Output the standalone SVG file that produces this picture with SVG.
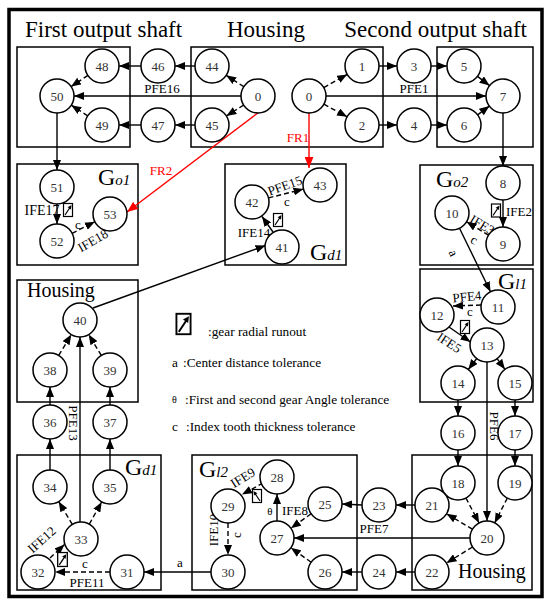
<svg xmlns="http://www.w3.org/2000/svg" width="550" height="607" viewBox="0 0 550 607">
<defs>
<style>
.bx{fill:none;stroke:#000;stroke-width:1.5}
.nd circle{fill:#fff;stroke:#000;stroke-width:1.5}
.nd text{font-family:'Liberation Serif',serif;font-size:13px;fill:#333;text-anchor:middle}
.e{stroke:#000;stroke-width:1.4;fill:none;marker-end:url(#ah)}
.d{stroke-dasharray:5 3}
.r{stroke:#f00;stroke-width:1.4;fill:none;marker-end:url(#ahr)}
.lb{font-family:'Liberation Serif',serif;font-size:13px;fill:#000}
.m{text-anchor:middle}
.t{font-family:'Liberation Serif',serif;font-size:23px;fill:#000}
.h{font-family:'Liberation Serif',serif;font-size:20px;fill:#000}
.g{font-family:'Liberation Serif',serif;font-size:24px;fill:#000}
.gs{font-style:italic;font-size:15px}
.rl{font-family:'Liberation Serif',serif;font-size:13px;fill:#f00}
.lg{font-family:'Liberation Serif',serif;font-size:13.3px;fill:#000}
</style>
<marker id="ah" viewBox="0 0 10 8" refX="10" refY="4" markerWidth="10" markerHeight="8" markerUnits="userSpaceOnUse" orient="auto"><path d="M0,0 L10,4 L0,8 z" fill="#000"/></marker>
<marker id="ahr" viewBox="0 0 10 8" refX="10" refY="4" markerWidth="11" markerHeight="9" markerUnits="userSpaceOnUse" orient="auto"><path d="M0,0 L10,4 L0,8 z" fill="#f00"/></marker>
<symbol id="ro" viewBox="0 0 10 14" overflow="visible">
<rect x="0.5" y="0.5" width="9" height="13" fill="#fff" stroke="#000" stroke-width="1.2"/>
<line x1="2" y1="12" x2="7" y2="4.5" stroke="#000" stroke-width="1.2"/>
<polygon points="8.5,2 7.96,6.4 4.64,4.2" fill="#000"/>
</symbol>
</defs>
<rect width="550" height="607" fill="#fff"/>
<rect x="9" y="9.5" width="533" height="587" fill="none" stroke="#000" stroke-width="3.5"/>

<g id="titles">
<text class="t" x="25" y="37">First output shaft</text>
<text class="t" x="227" y="37">Housing</text>
<text class="t" x="527" y="37" text-anchor="end">Second output shaft</text>
</g>

<g id="boxes">
<rect class="bx" x="17" y="47" width="113" height="100"/>
<rect class="bx" x="191" y="47" width="192" height="100"/>
<rect class="bx" x="437" y="47" width="96" height="100"/>
<rect class="bx" x="17" y="164" width="121" height="101"/>
<rect class="bx" x="225" y="164" width="121" height="101"/>
<rect class="bx" x="420" y="165" width="113" height="100"/>
<rect class="bx" x="17" y="280" width="121" height="122"/>
<rect class="bx" x="420" y="269" width="113" height="133"/>
<rect class="bx" x="17" y="455" width="144" height="135"/>
<rect class="bx" x="192" y="455" width="165" height="135"/>
<rect class="bx" x="412" y="455" width="120" height="135"/>
<text class="h" x="27" y="297">Housing</text>
<text class="h" x="458" y="578">Housing</text>
<text class="g" x="98" y="185">G<tspan class="gs">o1</tspan></text>
<text class="g" x="310" y="260">G<tspan class="gs">d1</tspan></text>
<text class="g" x="436" y="187">G<tspan class="gs">o2</tspan></text>
<text class="g" x="498" y="289">G<tspan class="gs">l1</tspan></text>
<text class="g" x="199" y="477">G<tspan class="gs">l2</tspan></text>
<text class="g" x="125" y="475">G<tspan class="gs">d1</tspan></text>
</g>

<g id="connectors">
<line class="e" x1="141" y1="66" x2="119" y2="66"/>
<line class="e" x1="195" y1="66" x2="175" y2="66"/>
<line class="e" x1="141" y1="125" x2="119" y2="125"/>
<line class="e" x1="195" y1="125" x2="175" y2="125"/>
<line class="e d" x1="87.9" y1="75.4" x2="71.1" y2="86.6"/>
<line class="e d" x1="87.7" y1="115.8" x2="71.3" y2="105.2"/>
<line class="e" x1="241" y1="96" x2="74" y2="96"/>
<line class="e d" x1="243.8" y1="86.7" x2="226.2" y2="75.3"/>
<line class="e d" x1="243.6" y1="105.1" x2="226.4" y2="115.9"/>
<line class="e d" x1="323.8" y1="87.6" x2="347.2" y2="74.4"/>
<line class="e d" x1="323.9" y1="104.2" x2="347.1" y2="116.8"/>
<line class="e" x1="379" y1="66" x2="397" y2="66"/>
<line class="e" x1="379" y1="125" x2="397" y2="125"/>
<line class="e" x1="431" y1="66" x2="447" y2="66"/>
<line class="e" x1="431" y1="125" x2="447" y2="125"/>
<line class="e" x1="477.5" y1="76.4" x2="489.5" y2="85.6"/>
<line class="e" x1="477.6" y1="114.9" x2="489.4" y2="106.1"/>
<line class="e" x1="326" y1="96" x2="486" y2="96"/>
<line class="e" x1="503" y1="113" x2="503" y2="166"/>
<line class="e" x1="57" y1="113" x2="57" y2="170"/>
<line class="e" x1="57" y1="204" x2="57" y2="224"/>
<line class="e d" x1="72.1" y1="233.3" x2="94.9" y2="221.7"/>
<line class="e" x1="273" y1="232" x2="262" y2="216.5"/>
<line class="e d" x1="268.5" y1="197.9" x2="303.5" y2="189.1"/>
<line class="e" x1="93" y1="308" x2="265.5" y2="245.5"/>
<line class="e" x1="503" y1="200" x2="503" y2="227"/>
<line class="e d" x1="488.5" y1="235.2" x2="466.5" y2="221.8"/>
<line class="e" x1="459.5" y1="228.3" x2="490.5" y2="291.7"/>
<line class="e d" x1="481" y1="305" x2="453" y2="306"/>
<line class="e" x1="449" y1="327" x2="470.5" y2="342"/>
<line class="e" x1="476.7" y1="358.5" x2="468.3" y2="369.5"/>
<line class="e" x1="497.1" y1="358.7" x2="504.9" y2="369.3"/>
<line class="e" x1="487" y1="362" x2="487" y2="521"/>
<line class="e" x1="458" y1="400" x2="458" y2="416"/>
<line class="e" x1="515" y1="400" x2="515" y2="416"/>
<line class="e" x1="458" y1="450" x2="458" y2="466"/>
<line class="e" x1="515" y1="450" x2="515" y2="466"/>
<line class="e d" x1="465.9" y1="498" x2="479.1" y2="523"/>
<line class="e d" x1="507.3" y1="498.1" x2="494.7" y2="522.9"/>
<line class="e d" x1="472.4" y1="529.2" x2="446.6" y2="513.8"/>
<line class="e d" x1="472.5" y1="547" x2="446.5" y2="563"/>
<line class="e" x1="415" y1="505" x2="396" y2="505"/>
<line class="e" x1="415" y1="572" x2="396" y2="572"/>
<line class="e" x1="470" y1="538" x2="294" y2="538"/>
<line class="e" x1="362" y1="505" x2="342" y2="504"/>
<line class="e" x1="362" y1="572" x2="342" y2="572"/>
<line class="e d" x1="311.1" y1="513.8" x2="290.9" y2="528.2"/>
<line class="e d" x1="311.1" y1="562.2" x2="290.9" y2="547.8"/>
<line class="e" x1="277" y1="521" x2="277" y2="494"/>
<line class="e d" x1="263" y1="483" x2="242" y2="494.5"/>
<line class="e d" x1="228" y1="523" x2="228" y2="555"/>
<line class="e" x1="211" y1="572" x2="144" y2="572"/>
<line class="e d" x1="110" y1="572" x2="55" y2="572"/>
<line class="e d" x1="50" y1="558" x2="64.5" y2="544.5"/>
<line class="e d" x1="72.3" y1="524.4" x2="58.7" y2="501.6"/>
<line class="e d" x1="89.3" y1="524.1" x2="101.7" y2="501.9"/>
<line class="e" x1="50" y1="470" x2="50" y2="439"/>
<line class="e" x1="110" y1="470" x2="110" y2="439"/>
<line class="e" x1="80" y1="522" x2="80" y2="337"/>
<line class="e" x1="50" y1="405" x2="50" y2="387"/>
<line class="e" x1="110" y1="405" x2="110" y2="387"/>
<line class="e d" x1="58.7" y1="355.4" x2="71.3" y2="334.6"/>
<line class="e d" x1="101.3" y1="355.4" x2="88.7" y2="334.6"/>
<line class="r" x1="309" y1="113" x2="309" y2="168"/>
<line class="r" x1="259" y1="112" x2="127" y2="212"/>
</g>

<g id="edge-labels">
<text class="lb m" x="162" y="93">PFE16</text>
<text class="lb m" x="414" y="93">PFE1</text>
<text class="rl m" x="298" y="142">FR1</text>
<text class="rl m" x="161" y="175">FR2</text>
<text class="lb m" x="42" y="215" style="font-size:14px">IFE17</text>
<text class="lb m" x="78" y="229">c</text>
<text class="lb m" transform="translate(93,241) rotate(-30)" y="4">IFE18</text>
<text class="lb m" transform="translate(285,186) rotate(-20)" y="4">PFE15</text>
<text class="lb m" x="287" y="206">c</text>
<text class="lb m" x="254" y="237">IFE14</text>
<text class="lb" x="506" y="216">IFE2</text>
<text class="lb m" transform="translate(482,225) rotate(31)" y="4">IFE3</text>
<text class="lb m" transform="translate(474,240) rotate(31)" y="4">c</text>
<text class="lb m" transform="translate(453,253) rotate(64)" y="4">a</text>
<text class="lb m" transform="translate(467,297) rotate(-6)" y="4">PFE4</text>
<text class="lb m" x="470" y="316">c</text>
<text class="lb m" transform="translate(449,343) rotate(33)" y="4">IFE5</text>
<text class="lb m" transform="translate(494,426) rotate(90)" y="4">PFE6</text>
<text class="lb m" x="374" y="533">PFE7</text>
<text class="lb m" x="270" y="515" style="font-size:11px">θ</text>
<text class="lb" x="282" y="515">IFE8</text>
<text class="lb m" transform="translate(243,478) rotate(-32)" y="4">IFE9</text>
<text class="lb m" transform="translate(214,530) rotate(-90)" y="4">IFE10</text>
<text class="lb m" transform="translate(237,535) rotate(-90)" y="4">c</text>
<text class="lb m" x="180" y="567">a</text>
<text class="lb m" x="85" y="568">c</text>
<text class="lb m" x="87" y="587">PFE11</text>
<text class="lb m" transform="translate(42,540) rotate(-42)" y="4">IFE12</text>
<text class="lb m" transform="translate(73,423) rotate(90)" y="4">PFE13</text>
</g>

<g id="runout-marks">
<use href="#ro" x="63" y="203" width="10" height="14"/>
<use href="#ro" x="273" y="213" width="10" height="14"/>
<use href="#ro" x="491" y="203" width="10" height="15"/>
<use href="#ro" x="460" y="320" width="10" height="14"/>
<use href="#ro" transform="translate(262,489) scale(-1,1)" x="0" y="0" width="10" height="14"/>
<use href="#ro" x="57" y="552" width="11" height="15"/>
</g>

<g id="n48" class="nd"><circle cx="102" cy="66" r="17"/><text x="102" y="70.5">48</text></g>
<g id="n46" class="nd"><circle cx="158" cy="66" r="17"/><text x="158" y="70.5">46</text></g>
<g id="n44" class="nd"><circle cx="212" cy="66" r="17"/><text x="212" y="70.5">44</text></g>
<g id="n50" class="nd"><circle cx="57" cy="96" r="17"/><text x="57" y="100.5">50</text></g>
<g id="n0a" class="nd"><circle cx="258" cy="96" r="17"/><text x="258" y="100.5">0</text></g>
<g id="n49" class="nd"><circle cx="102" cy="125" r="17"/><text x="102" y="129.5">49</text></g>
<g id="n47" class="nd"><circle cx="158" cy="125" r="17"/><text x="158" y="129.5">47</text></g>
<g id="n45" class="nd"><circle cx="212" cy="125" r="17"/><text x="212" y="129.5">45</text></g>
<g id="n0b" class="nd"><circle cx="309" cy="96" r="17"/><text x="309" y="100.5">0</text></g>
<g id="n1" class="nd"><circle cx="362" cy="66" r="17"/><text x="362" y="70.5">1</text></g>
<g id="n2" class="nd"><circle cx="362" cy="125" r="17"/><text x="362" y="129.5">2</text></g>
<g id="n3" class="nd"><circle cx="414" cy="66" r="17"/><text x="414" y="70.5">3</text></g>
<g id="n4" class="nd"><circle cx="414" cy="125" r="17"/><text x="414" y="129.5">4</text></g>
<g id="n5" class="nd"><circle cx="464" cy="66" r="17"/><text x="464" y="70.5">5</text></g>
<g id="n6" class="nd"><circle cx="464" cy="125" r="17"/><text x="464" y="129.5">6</text></g>
<g id="n7" class="nd"><circle cx="503" cy="96" r="17"/><text x="503" y="100.5">7</text></g>
<g id="n51" class="nd"><circle cx="57" cy="187" r="17"/><text x="57" y="191.5">51</text></g>
<g id="n52" class="nd"><circle cx="57" cy="241" r="17"/><text x="57" y="245.5">52</text></g>
<g id="n53" class="nd"><circle cx="110" cy="214" r="17"/><text x="110" y="218.5">53</text></g>
<g id="n42" class="nd"><circle cx="252" cy="202" r="17"/><text x="252" y="206.5">42</text></g>
<g id="n43" class="nd"><circle cx="320" cy="185" r="17"/><text x="320" y="189.5">43</text></g>
<g id="n41" class="nd"><circle cx="282" cy="247" r="17"/><text x="282" y="251.5">41</text></g>
<g id="n8" class="nd"><circle cx="503" cy="183" r="17"/><text x="503" y="187.5">8</text></g>
<g id="n10" class="nd"><circle cx="452" cy="213" r="17"/><text x="452" y="217.5">10</text></g>
<g id="n9" class="nd"><circle cx="503" cy="244" r="17"/><text x="503" y="248.5">9</text></g>
<g id="n11" class="nd"><circle cx="498" cy="307" r="17"/><text x="498" y="311.5">11</text></g>
<g id="n12" class="nd"><circle cx="437" cy="315" r="17"/><text x="437" y="319.5">12</text></g>
<g id="n13" class="nd"><circle cx="487" cy="345" r="17"/><text x="487" y="349.5">13</text></g>
<g id="n14" class="nd"><circle cx="458" cy="383" r="17"/><text x="458" y="387.5">14</text></g>
<g id="n15" class="nd"><circle cx="515" cy="383" r="17"/><text x="515" y="387.5">15</text></g>
<g id="n16" class="nd"><circle cx="458" cy="433" r="17"/><text x="458" y="437.5">16</text></g>
<g id="n17" class="nd"><circle cx="515" cy="433" r="17"/><text x="515" y="437.5">17</text></g>
<g id="n18" class="nd"><circle cx="458" cy="483" r="17"/><text x="458" y="487.5">18</text></g>
<g id="n19" class="nd"><circle cx="515" cy="483" r="17"/><text x="515" y="487.5">19</text></g>
<g id="n21" class="nd"><circle cx="432" cy="505" r="17"/><text x="432" y="509.5">21</text></g>
<g id="n20" class="nd"><circle cx="487" cy="538" r="17"/><text x="487" y="542.5">20</text></g>
<g id="n22" class="nd"><circle cx="432" cy="572" r="17"/><text x="432" y="576.5">22</text></g>
<g id="n23" class="nd"><circle cx="379" cy="505" r="17"/><text x="379" y="509.5">23</text></g>
<g id="n24" class="nd"><circle cx="379" cy="572" r="17"/><text x="379" y="576.5">24</text></g>
<g id="n25" class="nd"><circle cx="325" cy="504" r="17"/><text x="325" y="508.5">25</text></g>
<g id="n26" class="nd"><circle cx="325" cy="572" r="17"/><text x="325" y="576.5">26</text></g>
<g id="n27" class="nd"><circle cx="277" cy="538" r="17"/><text x="277" y="542.5">27</text></g>
<g id="n28" class="nd"><circle cx="277" cy="477" r="17"/><text x="277" y="481.5">28</text></g>
<g id="n29" class="nd"><circle cx="228" cy="506" r="17"/><text x="228" y="510.5">29</text></g>
<g id="n30" class="nd"><circle cx="228" cy="572" r="17"/><text x="228" y="576.5">30</text></g>
<g id="n31" class="nd"><circle cx="127" cy="572" r="17"/><text x="127" y="576.5">31</text></g>
<g id="n32" class="nd"><circle cx="38" cy="572" r="17"/><text x="38" y="576.5">32</text></g>
<g id="n33" class="nd"><circle cx="81" cy="539" r="17"/><text x="81" y="543.5">33</text></g>
<g id="n34" class="nd"><circle cx="50" cy="487" r="17"/><text x="50" y="491.5">34</text></g>
<g id="n35" class="nd"><circle cx="110" cy="487" r="17"/><text x="110" y="491.5">35</text></g>
<g id="n36" class="nd"><circle cx="50" cy="422" r="17"/><text x="50" y="426.5">36</text></g>
<g id="n37" class="nd"><circle cx="110" cy="422" r="17"/><text x="110" y="426.5">37</text></g>
<g id="n38" class="nd"><circle cx="50" cy="370" r="17"/><text x="50" y="374.5">38</text></g>
<g id="n39" class="nd"><circle cx="110" cy="370" r="17"/><text x="110" y="374.5">39</text></g>
<g id="n40" class="nd"><circle cx="80" cy="320" r="17"/><text x="80" y="324.5">40</text></g>

<g id="legend">
<use href="#ro" x="175" y="313" width="17" height="22"/>
<text class="lg" x="208" y="336">:gear radial runout</text>
<text class="lg" x="172" y="367">a</text>
<text class="lg" x="183" y="367">:Center distance tolerance</text>
<text class="lg" x="172" y="403" style="font-size:10px">θ</text>
<text class="lg" x="185" y="404">:First and second gear Angle tolerance</text>
<text class="lg" x="172" y="431">c</text>
<text class="lg" x="186" y="431">:Index tooth thickness tolerance</text>
</g>
</svg>
